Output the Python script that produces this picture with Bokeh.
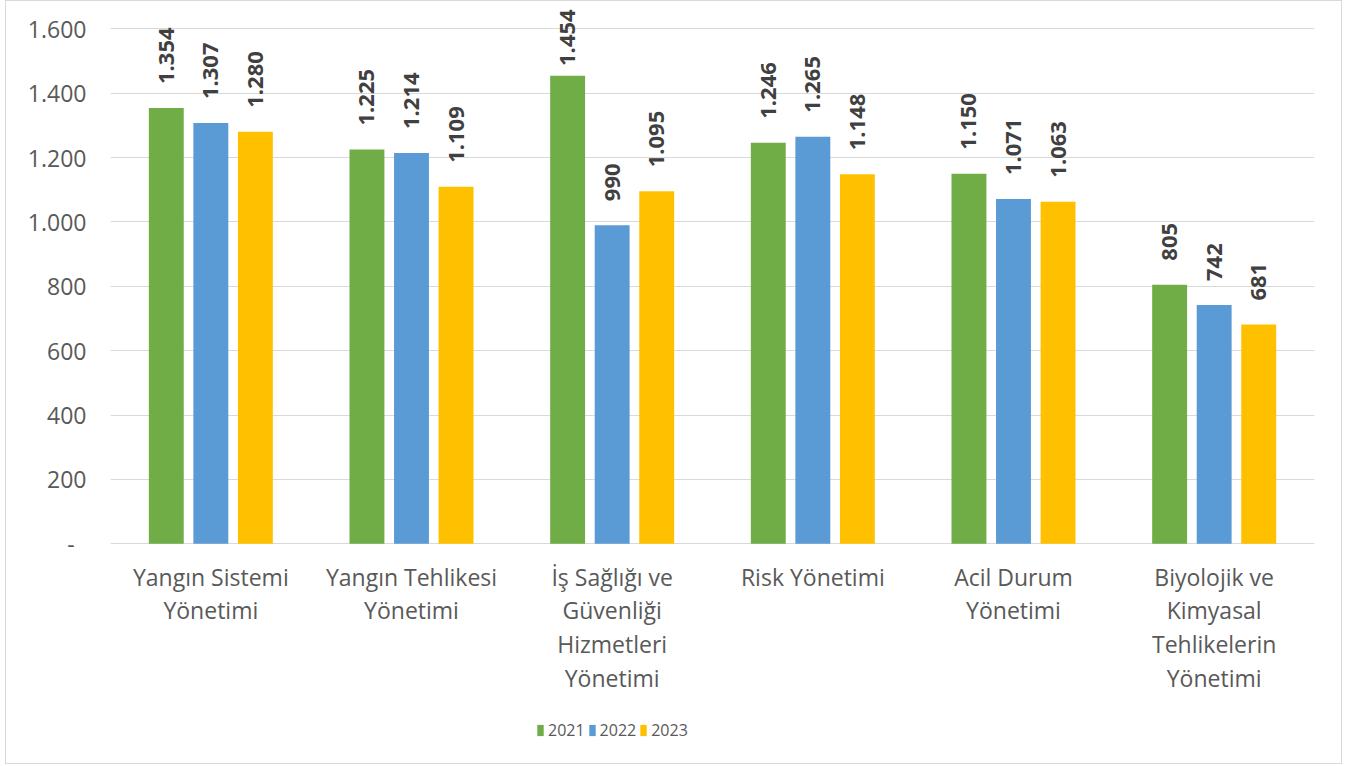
import numpy as np
from bokeh.plotting import figure
from bokeh.models import ColumnDataSource, FactorRange, Range1d, FixedTicker, Legend, LegendItem
from bokeh.transform import dodge
from bokeh.core.properties import value
from bokeh.embed import file_html
from bokeh.resources import INLINE

categories = [
    "Yangın Sistemi Yönetimi",
    "Yangın Tehlikesi Yönetimi",
    "İş Sağlığı ve Güvenliği Hizmetleri Yönetimi",
    "Risk Yönetimi",
    "Acil Durum Yönetimi",
    "Biyolojik ve Kimyasal Tehlikelerin Yönetimi",
]
category_lines = [
    ["Yangın Sistemi", "Yönetimi"],
    ["Yangın Tehlikesi", "Yönetimi"],
    ["İş Sağlığı ve", "Güvenliği", "Hizmetleri", "Yönetimi"],
    ["Risk Yönetimi"],
    ["Acil Durum", "Yönetimi"],
    ["Biyolojik ve", "Kimyasal", "Tehlikelerin", "Yönetimi"],
]
years = ["2021", "2022", "2023"]
v2021 = [1354, 1225, 1454, 1246, 1150, 805]
v2022 = [1307, 1214, 990, 1265, 1071, 742]
v2023 = [1280, 1109, 1095, 1148, 1063, 681]
y_ticks = [0, 200, 400, 600, 800, 1000, 1200, 1400, 1600]

series = [v2021, v2022, v2023]
colors = ["#70AD47", "#5B9BD5", "#FFC000"]
offsets = [-0.222, 0.0, 0.222]


def tr(n):
    return f"{n:,}".replace(",", ".")


# layout: 1600 -> 27.3px from frame top, 0 -> 542.3px
W, H = 1337, 764
top_px, zero_px = 27.3, 542.3
k = (zero_px - top_px) / 1600.0
y_end = 1600 + top_px / k
y_start = -(H - zero_px) / k

p = figure(
    width=W, height=H,
    x_range=FactorRange(*categories, range_padding=0),
    y_range=Range1d(y_start, y_end),
    output_backend="svg", toolbar_location=None,
    x_axis_location=None,
    min_border_left=104, min_border_right=29, min_border_top=0, min_border_bottom=0,
)
p.margin = (0, 0, 0, 5)
p.styles = {"border": "1px solid #d9d9d9"}
p.outline_line_color = None
p.xgrid.grid_line_color = None
p.ygrid.grid_line_color = "#d9d9d9"
p.ygrid.grid_line_width = 1
p.yaxis.ticker = FixedTicker(ticks=y_ticks)
p.yaxis.major_label_overrides = {t: ("-\u00a0\u00a0" if t == 0 else tr(t)) for t in y_ticks}
p.yaxis.axis_line_color = None
p.yaxis.major_tick_line_color = None
p.yaxis.minor_tick_line_color = None
p.yaxis.major_tick_out = 0
p.yaxis.major_label_standoff = 24
p.yaxis.major_label_text_font = "Open Sans"
p.yaxis.major_label_text_font_size = "23px"
p.yaxis.major_label_text_color = "#595959"

label_cap = 1410
items = []
for yr, vals, col, off in zip(years, series, colors, offsets):
    src = ColumnDataSource(dict(
        cat=categories,
        val=vals,
        ly=[min(v, label_cap) for v in vals],
        txt=[tr(v) for v in vals],
    ))
    r = p.vbar(x=dodge("cat", off, range=p.x_range), top="val", bottom=0, width=0.174,
               source=src, fill_color=col, line_color=None)
    p.text(x=dodge("cat", off, range=p.x_range), y="ly", text="txt", source=src,
           angle=np.pi / 2, text_align="left", text_baseline="middle",
           y_offset=-24, text_font=value("Open Sans"), text_font_style="bold",
           text_font_size="22px", text_color="#404040")
    items.append(LegendItem(label=yr, renderers=[r]))

cat_src = ColumnDataSource(dict(
    cat=categories,
    y=[0] * len(categories),
    txt=["\n".join(l) for l in category_lines],
))
p.text(x="cat", y="y", text="txt", source=cat_src, text_align="center",
       text_baseline="top", y_offset=17, text_line_height=1.05,
       text_font=value("Open Sans"), text_font_size="23px", text_color="#595959")

legend = Legend(
    items=items, location=(426, 24), orientation="horizontal",
    border_line_color=None, background_fill_alpha=0,
    padding=0, margin=0, spacing=3, glyph_width=8, glyph_height=14,
    label_standoff=4, label_text_font="Open Sans", label_text_font_size="16px",
    label_text_color="#595959",
)
p.add_layout(legend)

open("out.html", "w").write(file_html(p, INLINE))
